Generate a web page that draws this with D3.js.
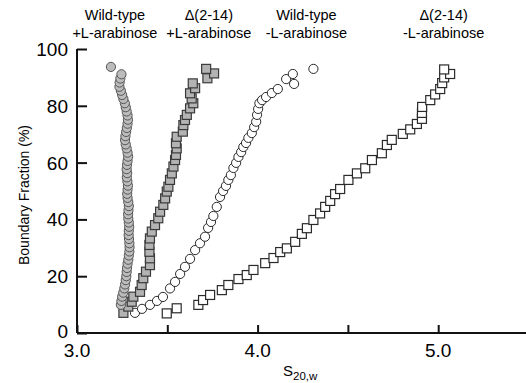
<!DOCTYPE html>
<html>
<head>
<meta charset="utf-8">
<script src="https://cdn.jsdelivr.net/npm/d3@7"></script>
<style>
  body { margin: 0; background: #fff; }
  svg { display: block; font-family: "Liberation Sans", Arial, sans-serif; }
</style>
</head>
<body>
<div id="chart"></div>
<script>
// boundary fraction (%) and S20,w values
const wtPlusF = [9.9, 11.3, 12.8, 14.2, 15.7, 17.1, 18.6, 20.0, 21.5, 22.9, 24.4, 25.8, 27.3, 28.7, 30.2, 31.6, 33.1, 34.5, 36.0, 37.4, 38.9, 40.3, 41.8, 43.2, 44.7, 46.1, 47.6, 49.0, 50.5, 51.9, 53.4, 54.8, 56.3, 57.7, 59.2, 60.6, 62.1, 63.5, 65.0, 66.4, 67.9, 69.3, 70.8, 72.2, 73.7, 75.1, 76.6, 78.0, 79.5, 80.9, 82.4, 83.8, 85.3, 86.7, 88.2, 89.6, 91.1, 93.7];
const wtPlusS = [3.243, 3.246, 3.250, 3.256, 3.262, 3.266, 3.270, 3.273, 3.275, 3.277, 3.280, 3.284, 3.287, 3.290, 3.291, 3.290, 3.288, 3.286, 3.287, 3.289, 3.287, 3.284, 3.283, 3.285, 3.287, 3.284, 3.280, 3.278, 3.280, 3.282, 3.279, 3.276, 3.278, 3.275, 3.277, 3.280, 3.283, 3.280, 3.275, 3.270, 3.266, 3.268, 3.272, 3.276, 3.280, 3.282, 3.280, 3.275, 3.270, 3.265, 3.257, 3.250, 3.243, 3.235, 3.236, 3.240, 3.246, 3.188];

const delPlusF = [7.1, 9.3, 11.0, 12.8, 14.5, 16.9, 19.3, 21.6, 23.9, 26.3, 28.6, 31.0, 33.3, 35.7, 38.0, 40.4, 42.7, 45.1, 47.4, 49.8, 51.5, 53.9, 56.2, 58.6, 60.9, 62.7, 65.0, 66.8, 69.1, 70.9, 73.2, 75.0, 76.8, 79.1, 80.9, 82.6, 84.4, 86.2, 87.9, 89.7, 91.4, 93.0];
const delPlusS = [3.257, 3.284, 3.303, 3.312, 3.349, 3.358, 3.367, 3.382, 3.404, 3.404, 3.401, 3.401, 3.404, 3.414, 3.432, 3.450, 3.460, 3.478, 3.488, 3.497, 3.506, 3.515, 3.525, 3.534, 3.543, 3.548, 3.552, 3.548, 3.552, 3.586, 3.589, 3.598, 3.608, 3.626, 3.644, 3.635, 3.626, 3.654, 3.641, 3.722, 3.759, 3.715];

const wtMinusF = [7.1, 8.5, 9.9, 11.3, 12.7, 15.7, 18.0, 20.8, 23.3, 26.1, 29.2, 31.6, 33.9, 37.0, 39.1, 41.2, 44.4, 47.9, 50.0, 51.8, 53.9, 55.6, 58.1, 59.9, 62.0, 63.7, 65.5, 66.9, 68.7, 70.4, 72.5, 74.4, 76.8, 78.9, 80.9, 82.0, 83.1, 84.5, 85.9, 87.7, 89.4, 91.2, 93.0];
const wtMinusS = [3.321, 3.360, 3.404, 3.443, 3.476, 3.515, 3.543, 3.571, 3.598, 3.626, 3.654, 3.681, 3.709, 3.726, 3.742, 3.755, 3.774, 3.792, 3.809, 3.825, 3.838, 3.852, 3.866, 3.881, 3.894, 3.909, 3.921, 3.936, 3.949, 3.968, 3.981, 3.992, 3.997, 4.003, 4.010, 4.025, 4.047, 4.079, 4.112, 4.202, 4.158, 4.195, 4.309];

const delMinusF = [6.9, 8.7, 9.9, 11.6, 13.4, 15.1, 16.9, 19.0, 20.4, 22.2, 24.6, 26.4, 28.5, 29.8, 32.1, 34.9, 36.9, 39.8, 42.1, 44.4, 46.5, 48.9, 50.7, 53.9, 56.2, 58.0, 60.9, 63.3, 66.2, 68.0, 70.1, 71.7, 73.6, 75.4, 77.5, 79.6, 82.0, 84.0, 85.9, 88.0, 90.0, 91.2, 92.8];
const delMinusS = [3.497, 3.552, 3.672, 3.698, 3.737, 3.802, 3.838, 3.894, 3.940, 3.977, 4.042, 4.088, 4.125, 4.162, 4.208, 4.245, 4.273, 4.309, 4.346, 4.374, 4.402, 4.429, 4.457, 4.503, 4.550, 4.596, 4.633, 4.688, 4.716, 4.743, 4.804, 4.845, 4.882, 4.910, 4.910, 4.911, 4.956, 4.983, 5.011, 5.022, 5.033, 5.066, 5.033];

const xTicks = [3.0, 3.5, 4.0, 4.5, 5.0];
const xTickLabels = ["3.0", "", "4.0", "", "5.0"];
const yTicks = [0, 20, 40, 60, 80, 100];

const headers = [
  { s: 3.21, lines: ["Wild-type", "+L-arabinose"] },
  { s: 3.73, lines: ["\u0394(2-14)", "+L-arabinose"] },
  { s: 4.27, lines: ["Wild-type", "-L-arabinose"] },
  { s: 5.03, lines: ["\u0394(2-14)", "-L-arabinose"] }
];

const width = 526, height = 383;

const svg = d3.select("#chart").append("svg")
  .attr("width", width)
  .attr("height", height);

const x = d3.scaleLinear().domain([3.0, 5.5]).range([77, 528.5]);
const y = d3.scaleLinear().domain([0, 100]).range([333, 49]);

// axes, ticks pointing inward
const xAxis = svg.append("g")
  .attr("transform", `translate(0,${y(0)})`)
  .call(d3.axisTop(x).tickValues(xTicks).tickSize(8).tickFormat(""));
xAxis.select(".domain").attr("d", `M${x(3)},0H${width}`);
xAxis.selectAll("line, path").attr("stroke", "#111").attr("stroke-width", 2);

const yAxis = svg.append("g")
  .attr("transform", `translate(${x(3)},0)`)
  .call(d3.axisRight(y).tickValues(yTicks).tickSize(10).tickFormat(""));
yAxis.select(".domain").attr("d", `M0,${y(100)}V${y(0)}`);
yAxis.selectAll("line, path").attr("stroke", "#111").attr("stroke-width", 2);

svg.append("g").selectAll("text")
  .data(yTicks)
  .join("text")
  .attr("x", x(3) - 9)
  .attr("y", d => y(d) + (d === 0 ? 5 : 7))
  .attr("text-anchor", "end")
  .attr("font-size", 19)
  .text(d => d);

svg.append("g").selectAll("text")
  .data(xTicks)
  .join("text")
  .attr("x", d => x(d))
  .attr("y", 357)
  .attr("text-anchor", "middle")
  .attr("font-size", 19)
  .text((d, i) => xTickLabels[i]);

// axis titles
svg.append("text")
  .attr("transform", `translate(29,${(y(0) + y(100)) / 2 + 4}) rotate(-90)`)
  .attr("text-anchor", "middle")
  .attr("font-size", 14)
  .text("Boundary Fraction (%)");

const xt = svg.append("text")
  .attr("x", 283)
  .attr("y", 376)
  .attr("font-size", 15);
xt.append("tspan").text("S");
xt.append("tspan").attr("font-size", 11.5).attr("dy", 4).text("20,w");

// column headers
headers.forEach(h => {
  svg.append("text")
    .attr("x", x(h.s))
    .attr("y", 20)
    .attr("text-anchor", "middle")
    .attr("font-size", 14.5)
    .selectAll("tspan")
    .data(h.lines)
    .join("tspan")
    .attr("x", x(h.s))
    .attr("dy", (d, i) => i ? 18 : 0)
    .text(d => d);
});

// markers
const zip = (s, f) => s.map((v, i) => ({ s: v, f: f[i] }));

function circles(data, fill, stroke) {
  svg.append("g").selectAll("circle")
    .data(data)
    .join("circle")
    .attr("cx", d => x(d.s))
    .attr("cy", d => y(d.f))
    .attr("r", 4.6)
    .attr("fill", fill)
    .attr("stroke", stroke)
    .attr("stroke-width", 1);
}

function squares(data, fill, stroke) {
  const sz = 9;
  svg.append("g").selectAll("rect")
    .data(data)
    .join("rect")
    .attr("x", d => x(d.s) - sz / 2)
    .attr("y", d => y(d.f) - sz / 2)
    .attr("width", sz)
    .attr("height", sz)
    .attr("fill", fill)
    .attr("stroke", stroke)
    .attr("stroke-width", 1.2);
}

squares(zip(delMinusS, delMinusF), "#fff", "#2a2a2a");
circles(zip(wtMinusS, wtMinusF), "#fff", "#2a2a2a");
squares(zip(delPlusS, delPlusF), "#b3b3b3", "#3a3a3a");
circles(zip(wtPlusS, wtPlusF), "#bcbcbc", "#555");
</script>
</body>
</html>
